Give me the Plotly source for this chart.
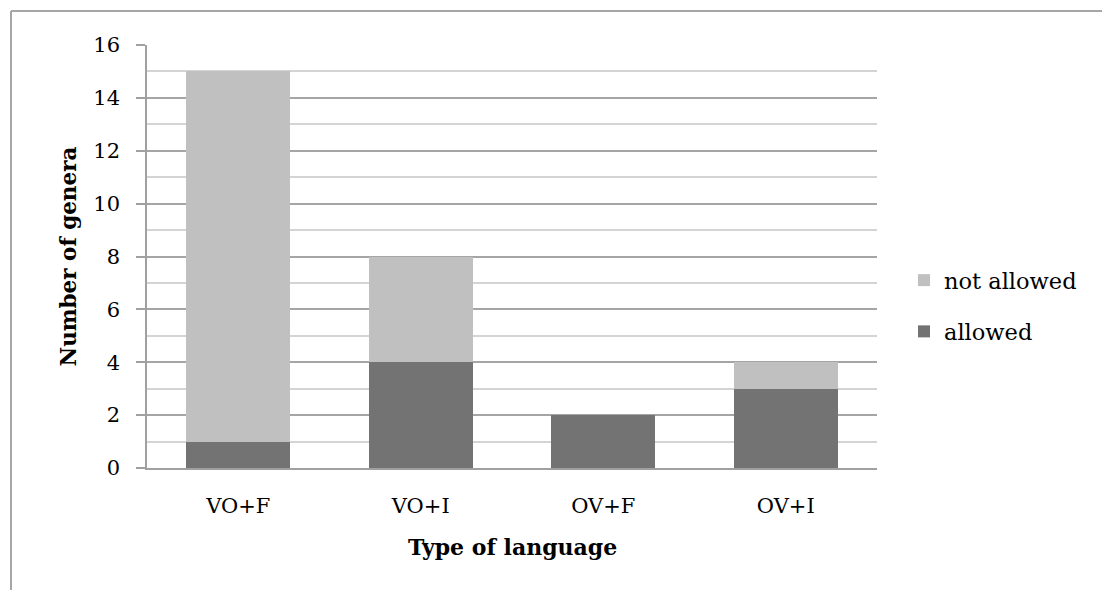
import plotly.graph_objects as go

categories = ["VO+F", "VO+I", "OV+F", "OV+I"]
allowed = [1, 4, 2, 3]
not_allowed = [14, 4, 0, 1]
y_ticks = [0, 2, 4, 6, 8, 10, 12, 14, 16]

FONT = "DejaVu Serif"
OFF = 8  # page body margin
W, H = 1110 - OFF, 590 - OFF
# target screen coordinates of plot area
X0, X1, Y0, Y1 = 147, 877, 45, 468
L, T = X0 - OFF, Y0 - OFF
R, B = W - (X1 - OFF), H - (Y1 - OFF)
pw, ph = W - L - R, H - T - B


def px(x):
    return (x - X0) / pw


def py(y):
    return (Y1 - y) / ph


fig = go.Figure()
fig.add_trace(go.Bar(x=categories, y=allowed, name="allowed",
                     marker=dict(color="#737373", line=dict(width=0)),
                     legendgroup="a", legendrank=2))
fig.add_trace(go.Bar(x=categories, y=not_allowed, name="not allowed",
                     marker=dict(color="#c0c0c0", line=dict(width=0)),
                     legendgroup="b", legendrank=1))

fig.update_layout(
    width=W, height=H,
    margin=dict(l=L, r=R, t=T, b=B, autoexpand=False),
    barmode="stack", bargap=0.43,
    plot_bgcolor="white", paper_bgcolor="white",
    font=dict(family=FONT, size=21, color="black"),
    legend=dict(x=px(904), y=py(306), xanchor="left", yanchor="middle",
                traceorder="grouped", tracegroupgap=19, font=dict(size=22.5),
                bgcolor="rgba(0,0,0,0)", itemwidth=30),
    showlegend=True,
)
fig.update_xaxes(showline=True, linecolor="#a0a0a0", linewidth=1.5, ticks="",
                 ticklabelstandoff=18, tickfont=dict(size=21))
fig.update_yaxes(range=[0, 16], tickvals=y_ticks, showline=True, linecolor="#a0a0a0",
                 linewidth=1.5, ticks="outside", ticklen=9, tickcolor="#a0a0a0",
                 tickwidth=1.5, showgrid=True, gridcolor="#a5a5a5", gridwidth=1.5,
                 zeroline=False, ticklabelstandoff=12, tickfont=dict(size=21))
fig.update_yaxes(minor=dict(dtick=1, showgrid=True, gridcolor="#d4d4d4", gridwidth=1.5,
                            ticks=""))

fig.add_annotation(text="<b>Number of genera</b>", xref="paper", yref="paper",
                   x=px(68), y=0.5, textangle=-90, showarrow=False,
                   font=dict(size=21.5, family=FONT), xanchor="center", yanchor="middle")
fig.add_annotation(text="<b>Type of language</b>", xref="paper", yref="paper",
                   x=0.5, y=py(547), showarrow=False,
                   font=dict(size=22, family=FONT), xanchor="center", yanchor="middle")

# outer chart frame (left and top edges visible)
fig.add_shape(type="line", xref="paper", yref="paper",
              x0=px(11), x1=px(11), y0=py(11), y1=py(620),
              line=dict(color="#a6a6a6", width=2))
fig.add_shape(type="line", xref="paper", yref="paper",
              x0=px(11), x1=px(1140), y0=py(11), y1=py(11),
              line=dict(color="#a6a6a6", width=2))

fig.write_html("out.html")
